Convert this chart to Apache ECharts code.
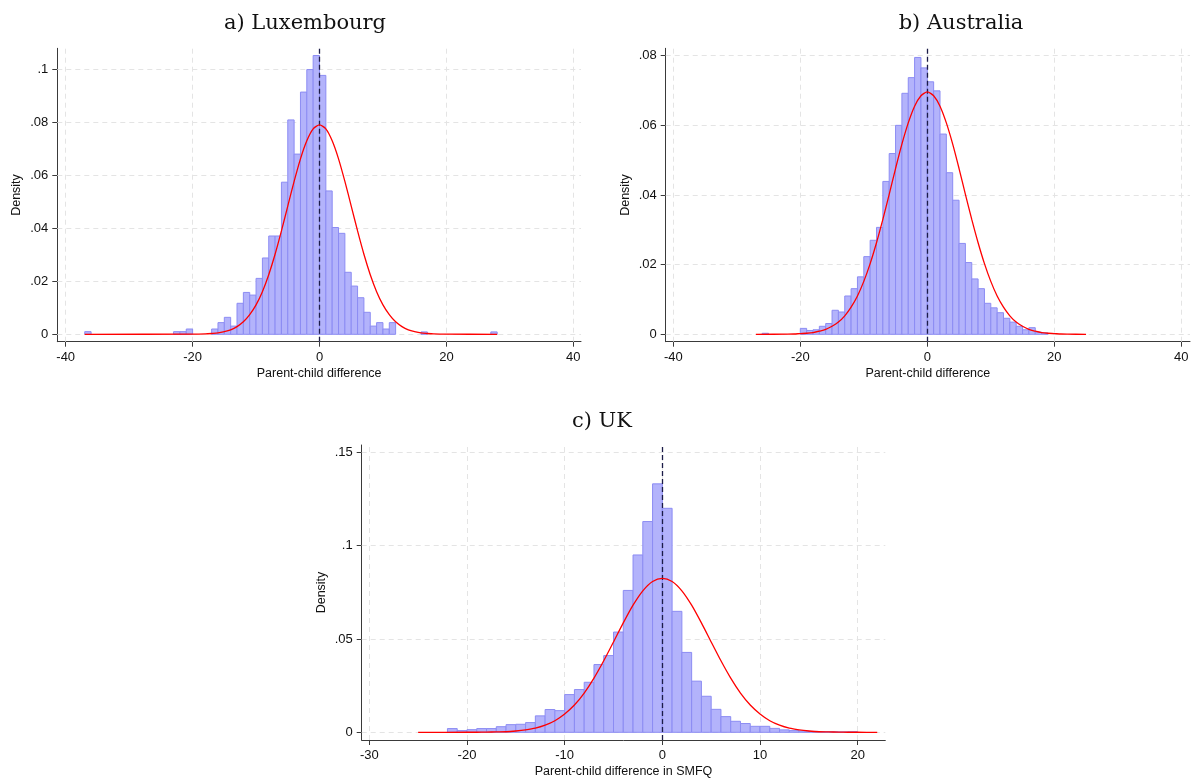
<!DOCTYPE html>
<html>
<head>
<meta charset="utf-8">
<script src="https://cdn.jsdelivr.net/npm/echarts@6/dist/echarts.min.js"></script>
<style>
  html, body { margin: 0; padding: 0; background: #fff; }
  #main { width: 1195px; height: 783px; }
</style>
</head>
<body>
<div id="main"></div>
<script>
// ---- a) Luxembourg ----
var luxBins = [-37, -23, -22, -21, -17, -16, -15, -14, -13, -12, -11, -10, -9, -8, -7, -6, -5, -4, -3, -2, -1,
  0, 1, 2, 3, 4, 5, 6, 7, 8, 9, 10, 11, 16, 27];
var luxDens = [0.001, 0.001, 0.001, 0.002, 0.002, 0.0044, 0.0064, 0.0031, 0.0117, 0.0158, 0.0148, 0.0211, 0.0288,
  0.0371, 0.0371, 0.0574, 0.0809, 0.068, 0.0914, 0.0999, 0.1052,
  0.0977, 0.0541, 0.0403, 0.0381, 0.0234, 0.0182, 0.0138, 0.0083, 0.0031, 0.0044, 0.002, 0.0044, 0.0009, 0.0009];
var luxCurveX = [-37, -20, -19, -18, -17, -16, -15, -14, -13, -12, -11, -10, -9, -8, -7, -6, -5, -4, -3, -2, -1,
  0, 1, 2, 3, 4, 5, 6, 7, 8, 9, 10, 11, 12, 13, 14, 15, 16, 17, 18, 19, 20, 28];
var luxCurveY = [0, 0.00003, 0.00007, 0.00014, 0.0003, 0.0005, 0.0010, 0.0017, 0.0029, 0.0047, 0.0074, 0.0111,
  0.0161, 0.0225, 0.0302, 0.0390, 0.0484, 0.0577, 0.0662, 0.0730, 0.0775,
  0.0790, 0.0775, 0.0730, 0.0662, 0.0577, 0.0484, 0.0390, 0.0302, 0.0225, 0.0161, 0.0111, 0.0074, 0.0047,
  0.0029, 0.0017, 0.0010, 0.0005, 0.0003, 0.00014, 0.00007, 0.00003, 0];
var luxXTicks = [-40, -20, 0, 20, 40];
var luxYTicks = [0, 0.02, 0.04, 0.06, 0.08, 0.1];

// ---- b) Australia ----
var ausBins = [-26, -20, -19, -18, -17, -16, -15, -14, -13, -12, -11, -10, -9, -8, -7, -6, -5, -4, -3, -2, -1,
  0, 1, 2, 3, 4, 5, 6, 7, 8, 9, 10, 11, 12, 13, 14, 15, 16, 17, 18];
var ausDens = [0.0003, 0.0017, 0.0011, 0.0013, 0.0023, 0.0031, 0.0069, 0.0064, 0.011, 0.0131, 0.0165, 0.0223,
  0.027, 0.0307, 0.0439, 0.0519, 0.06, 0.0692, 0.0737, 0.0795, 0.0765,
  0.0725, 0.0699, 0.0575, 0.0464, 0.0385, 0.0261, 0.0206, 0.0159, 0.0131, 0.0089, 0.0076, 0.0062, 0.0046,
  0.0035, 0.0023, 0.0013, 0.0019, 0.0006, 0.0004];
var ausCurveX = [-27, -22, -21, -20, -19, -18, -17, -16, -15, -14, -13, -12, -11, -10, -9, -8, -7, -6, -5, -4,
  -3, -2, -1, 0, 1, 2, 3, 4, 5, 6, 7, 8, 9, 10, 11, 12, 13, 14, 15, 16, 17, 18, 19, 20, 21, 22, 25];
var ausCurveY = [0, 0.00004, 0.00008, 0.0002, 0.0003, 0.0005, 0.0009, 0.0014, 0.0023, 0.0035, 0.0053, 0.0078,
  0.0110, 0.0152, 0.0203, 0.0263, 0.0330, 0.0402, 0.0476, 0.0546, 0.0607, 0.0655, 0.0685,
  0.0696, 0.0685, 0.0655, 0.0607, 0.0546, 0.0476, 0.0402, 0.0330, 0.0263, 0.0203, 0.0152, 0.0110, 0.0078,
  0.0053, 0.0035, 0.0023, 0.0014, 0.0009, 0.0005, 0.0003, 0.0002, 0.00008, 0.00004, 0];
var ausXTicks = [-40, -20, 0, 20, 40];
var ausYTicks = [0, 0.02, 0.04, 0.06, 0.08];

// ---- c) UK ----
var ukBins = [-22, -21, -20, -19, -18, -17, -16, -15, -14, -13, -12, -11, -10, -9, -8, -7, -6, -5, -4, -3, -2, -1,
  0, 1, 2, 3, 4, 5, 6, 7, 8, 9, 10, 11, 12, 13, 14, 15, 16, 17, 18, 19];
var ukDens = [0.002, 0.0009, 0.0014, 0.002, 0.002, 0.003, 0.0041, 0.0043, 0.0052, 0.0088, 0.0122, 0.0116,
  0.0202, 0.0229, 0.0268, 0.0363, 0.0411, 0.0537, 0.076, 0.095, 0.1129, 0.1331,
  0.12, 0.0648, 0.0428, 0.0274, 0.0193, 0.0123, 0.0084, 0.0059, 0.0047, 0.0032, 0.0032, 0.0021, 0.0013,
  0.0009, 0.0007, 0.0005, 0.0003, 0.0003, 0.0002, 0.0003];
var ukCurveX = [-25, -20, -19, -18, -17, -16, -15, -14, -13, -12, -11, -10, -9, -8, -7, -6, -5, -4, -3, -2, -1,
  0, 1, 2, 3, 4, 5, 6, 7, 8, 9, 10, 11, 12, 13, 14, 15, 16, 17, 18, 19, 20, 22];
var ukCurveY = [0, 0.00002, 0.00004, 0.0001, 0.0002, 0.0003, 0.0007, 0.0013, 0.0022, 0.0038, 0.0062, 0.0098,
  0.0146, 0.0210, 0.0290, 0.0383, 0.0484, 0.0586, 0.0681, 0.0758, 0.0808,
  0.0825, 0.0808, 0.0758, 0.0681, 0.0586, 0.0484, 0.0383, 0.0290, 0.0210, 0.0146, 0.0098, 0.0062, 0.0038,
  0.0022, 0.0013, 0.0007, 0.0003, 0.0002, 0.0001, 0.00004, 0.00002, 0];
var ukXTicks = [-30, -20, -10, 0, 10, 20];
var ukYTicks = [0, 0.05, 0.1, 0.15];

var binWidth = 1;

// layout: frame = axis box [left, top, right, bottom]; xPix = pixel of first/last x tick; yPix = pixel of first/last y tick
var panels = [
  { title: 'a) Luxembourg', titleX: 300, titleTop: 8, xName: 'Parent-child difference',
    frame: [57.3, 48.3, 581, 341.7], xPix: [65.7, 573.3], yPix: [334.3, 69.3],
    bins: luxBins, dens: luxDens, cx: luxCurveX, cy: luxCurveY, xt: luxXTicks, yt: luxYTicks },
  { title: 'b) Australia', titleX: 956, titleTop: 8, xName: 'Parent-child difference',
    frame: [665.7, 48.3, 1190, 341.7], xPix: [673.3, 1181.3], yPix: [334.3, 55.7],
    bins: ausBins, dens: ausDens, cx: ausCurveX, cy: ausCurveY, xt: ausXTicks, yt: ausYTicks },
  { title: 'c) UK', titleX: 597, titleTop: 406, xName: 'Parent-child difference in SMFQ',
    frame: [361.7, 445, 885.3, 740], xPix: [369.3, 857.7], yPix: [732.3, 452.3],
    bins: ukBins, dens: ukDens, cx: ukCurveX, cy: ukCurveY, xt: ukXTicks, yt: ukYTicks }
];

var sans = 'Liberation Sans, Arial, sans-serif';
var axisColor = '#3a3a3a';

function stataNum(v) {
  if (v === 0) return '0';
  return String(+v.toFixed(4)).replace(/^(-?)0\./, '$1.');
}

function renderBar(params, api) {
  var p0 = api.coord([api.value(0), api.value(2)]);
  var p1 = api.coord([api.value(1), 0]);
  return {
    type: 'rect',
    shape: { x: p0[0], y: p0[1], width: p1[0] - p0[0], height: p1[1] - p0[1] },
    style: { fill: '#b3b3fb', stroke: '#8c8cf3', lineWidth: 1 }
  };
}

var option = { animation: false, backgroundColor: '#fff', title: [], grid: [], xAxis: [], yAxis: [], series: [] };

panels.forEach(function (p, i) {
  var xt = p.xt, yt = p.yt;
  var xs = (xt[xt.length - 1] - xt[0]) / (p.xPix[1] - p.xPix[0]);
  var ys = (yt[yt.length - 1] - yt[0]) / (p.yPix[0] - p.yPix[1]);
  var fxMin = xt[0] - (p.xPix[0] - p.frame[0]) * xs;
  var fxMax = xt[xt.length - 1] + (p.frame[2] - p.xPix[1]) * xs;
  var fyMin = yt[0] - (p.frame[3] - p.yPix[0]) * ys;
  var fyMax = yt[yt.length - 1] + (p.yPix[1] - p.frame[1]) * ys;
  var tg = 2 * i, fg = 2 * i + 1;

  option.title.push({
    text: p.title, left: p.titleX, top: p.titleTop, textAlign: 'center',
    textStyle: { fontFamily: 'DejaVu Serif, serif', fontSize: 21, fontWeight: 'normal', color: '#111' }
  });

  // tick grid: spans exactly the first..last tick
  option.grid.push({
    left: p.xPix[0], top: p.yPix[1],
    width: p.xPix[1] - p.xPix[0], height: p.yPix[0] - p.yPix[1]
  });
  // frame grid: the axis box
  option.grid.push({
    left: p.frame[0], top: p.frame[1],
    width: p.frame[2] - p.frame[0], height: p.frame[3] - p.frame[1]
  });

  option.xAxis.push({
    gridIndex: tg, type: 'value', min: xt[0], max: xt[xt.length - 1], interval: xt[1] - xt[0],
    offset: p.frame[3] - p.yPix[0],
    axisLine: { show: false, onZero: false },
    axisTick: { show: true, length: 5, lineStyle: { color: axisColor } },
    axisLabel: { margin: 9, color: '#111', fontFamily: sans, fontSize: 13, formatter: stataNum },
    splitLine: { show: false }
  });
  option.yAxis.push({
    gridIndex: tg, type: 'value', min: yt[0], max: yt[yt.length - 1], interval: yt[1] - yt[0],
    offset: p.xPix[0] - p.frame[0],
    axisLine: { show: false, onZero: false },
    axisTick: { show: true, length: 5, lineStyle: { color: axisColor } },
    axisLabel: { margin: 9, color: '#111', fontFamily: sans, fontSize: 13, formatter: stataNum },
    splitLine: { show: false }
  });
  option.xAxis.push({
    gridIndex: fg, type: 'value', min: fxMin, max: fxMax,
    name: p.xName, nameLocation: 'middle', nameGap: 25,
    nameTextStyle: { fontFamily: sans, fontSize: 12.5, color: '#111' },
    axisLine: { show: true, onZero: false, lineStyle: { color: axisColor, width: 1 } },
    axisTick: { show: false }, axisLabel: { show: false }, splitLine: { show: false }
  });
  option.yAxis.push({
    gridIndex: fg, type: 'value', min: fyMin, max: fyMax,
    name: 'Density', nameLocation: 'middle', nameGap: 34,
    nameTextStyle: { fontFamily: sans, fontSize: 12.5, color: '#111' },
    axisLine: { show: true, onZero: false, lineStyle: { color: axisColor, width: 1 } },
    axisTick: { show: false }, axisLabel: { show: false }, splitLine: { show: false }
  });

  // light dashed grid lines at the ticks, across the whole axis box
  var gridMarks = xt.map(function (v) { return { xAxis: v }; })
    .concat(yt.map(function (v) { return { yAxis: v }; }));
  option.series.push({
    type: 'line', xAxisIndex: fg, yAxisIndex: fg, data: [], z: 1, silent: true,
    markLine: {
      z: 1, silent: true, symbol: 'none', animation: false,
      label: { show: false },
      lineStyle: { color: '#e4e4e4', type: [5, 4], width: 1 },
      data: gridMarks
    }
  });

  // histogram bars
  option.series.push({
    type: 'custom', xAxisIndex: fg, yAxisIndex: fg, z: 2, silent: true,
    renderItem: renderBar,
    encode: { x: [0, 1], y: 2 },
    data: p.bins.map(function (b, k) { return [b, b + binWidth, p.dens[k]]; })
  });

  // normal density overlay + dashed zero line
  option.series.push({
    type: 'line', xAxisIndex: fg, yAxisIndex: fg, z: 4, silent: true,
    symbol: 'none', smooth: 0.25,
    lineStyle: { color: '#ff0000', width: 1.3 },
    data: p.cx.map(function (x, k) { return [x, p.cy[k]]; }),
    markLine: {
      z: 3, silent: true, symbol: 'none', animation: false,
      label: { show: false },
      lineStyle: { color: '#1c1c48', type: [5, 3], width: 1.3 },
      data: [{ xAxis: 0 }]
    }
  });
});

var myChart = echarts.init(document.getElementById('main'));
myChart.setOption(option);
</script>
</body>
</html>
